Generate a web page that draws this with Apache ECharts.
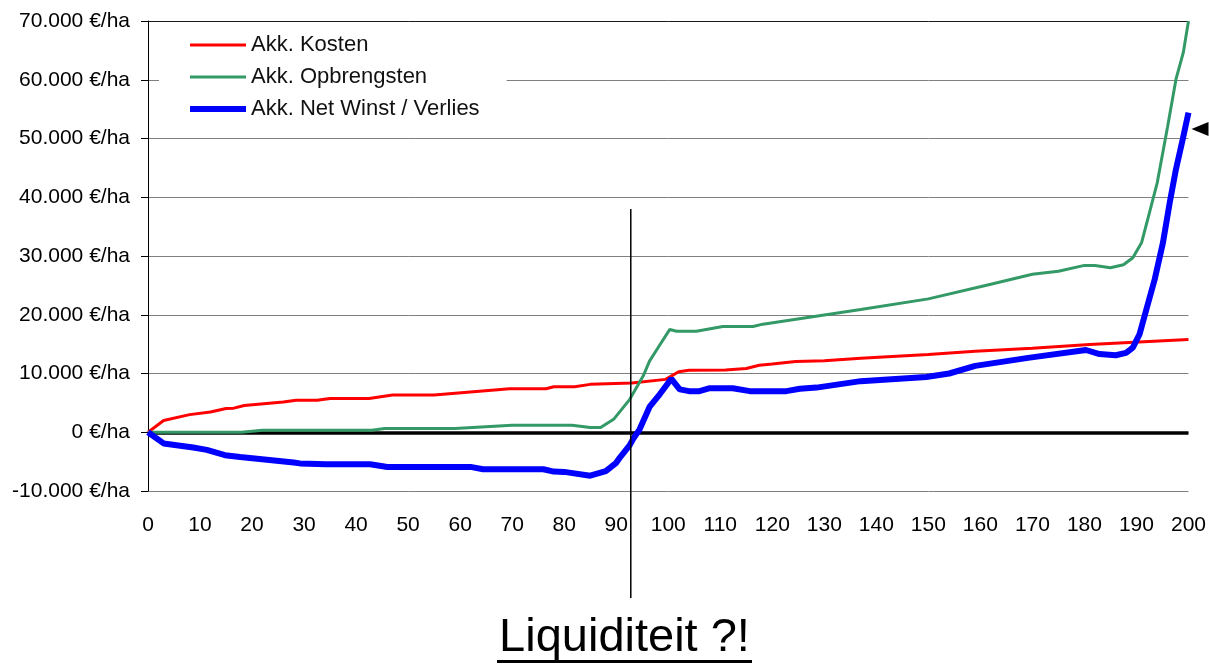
<!DOCTYPE html>
<html><head><meta charset="utf-8">
<script src="https://cdn.jsdelivr.net/npm/echarts@6/dist/echarts.min.js"></script>
<style>html,body{margin:0;padding:0;background:#fff}#c{width:1209px;height:664px}</style>
</head><body><div id="c"></div>
<script>
// ---- data ----
const seriesNames = ['Akk. Kosten', 'Akk. Opbrengsten', 'Akk. Net Winst / Verlies'];
const xTicks = [0,10,20,30,40,50,60,70,80,90,100,110,120,130,140,150,160,170,180,190,200];
const yTicks = [-10000,0,10000,20000,30000,40000,50000,60000,70000];

const kostenX = [0,3,8,12,15,16.5,18.5,26,28.5,32.5,35,42.5,47,55,69.5,76.5,78,82,85,93,99.5,102,104,111,115,117.5,120,124.5,130,137,150,159,170,181,200];
const kostenY = [0,2000,3000,3450,4050,4100,4550,5150,5450,5450,5750,5750,6350,6350,7400,7400,7750,7750,8150,8400,9000,10300,10550,10600,10850,11400,11600,12050,12150,12600,13250,13800,14300,14950,15800];

const opbrX = [0,18,22,43,45.5,59,70,81.5,85,87,89.5,92.6,95.2,96.4,98.4,100.3,101.6,105.4,110.5,116.3,118.2,137,150,162,170,175,180,182,185,187.5,189.3,191,192.5,194,196,197.6,199,200];
const opbrY = [0,0,350,350,650,650,1200,1200,800,800,2200,5600,9600,12100,14900,17500,17200,17200,18000,18000,18400,20900,22700,25200,26900,27400,28400,28400,28000,28500,29700,32300,37400,42500,52100,60100,64600,70000];

const netX = [0,3,8.7,11.3,14.8,17.7,28,29.2,34.3,42.7,46,62,64.4,76,78,80,85,88,90,90.7,92.6,93.2,94.5,96.4,98.4,100.6,102.2,104,106,108,112.4,115.7,122.7,125.3,128.5,137,149.6,154,159,169.5,180.3,182.9,186,188,189.3,190.6,191.9,193.5,195.1,196.4,197.6,198.9,200];
const netY = [0,-1900,-2600,-3000,-3900,-4200,-5150,-5300,-5450,-5450,-5900,-5900,-6300,-6300,-6700,-6750,-7400,-6600,-5200,-4300,-2200,-1200,500,4300,6500,9100,7300,7000,7000,7500,7500,7000,7000,7400,7600,8700,9400,10000,11300,12700,14000,13300,13100,13500,14400,16700,20900,26000,32300,39100,44800,49900,54400];

const markerX = 92.8;          // vertical annotation line
const markerTop = 38000;
const arrowValue = 51600;      // arrow at right edge
const titleText = 'Liquiditeit ?!';

// ---- chart ----
const FONT = 'Liberation Sans, Arial, sans-serif';
const pairs = (xs, ys) => xs.map((x, i) => [x, ys[i]]);
function fmtEuro(v) {
  const s = String(Math.abs(v)).replace(/\B(?=(\d{3})+(?!\d))/g, '.');
  return (v < 0 ? '-' : '') + s + ' €/ha';
}
const colors = ['#ff0000', '#339966', '#0000ff'];
const widths = [3, 3, 6];
// legend icon: a bar of the series' line width inside a 56x12 box
const lineIcon = w => 'path://M0,0 M56,12 M0,' + (6 - w / 2) + ' H56 V' + (6 + w / 2) + ' H0 Z';

const chart = echarts.init(document.getElementById('c'), null, {renderer: 'canvas'});
const gridColors = yTicks.map((t, i) => i === yTicks.length - 1 ? '#1a1a1a' : '#808080');

chart.setOption({
  animation: false,
  backgroundColor: '#fff',
  textStyle: {fontFamily: FONT},
  grid: {left: 148, right: 20, top: 21, bottom: 173, containLabel: false},
  legend: {
    data: seriesNames.map((n, i) => ({name: n, icon: lineIcon(widths[i]),
      itemStyle: {color: colors[i], borderWidth: 0}})),
    orient: 'vertical',
    left: 159, top: 25,
    padding: [9, 27, 10, 31],
    backgroundColor: '#fff',
    itemWidth: 56, itemHeight: 12, itemGap: 10,
    textStyle: {fontSize: 22, color: '#111', fontFamily: FONT, lineHeight: 22, padding: [0,0,0,0]},
    selectedMode: false
  },
  xAxis: {
    type: 'value', min: 0, max: 200, interval: 10,
    axisLine: {show: false}, axisTick: {show: false}, splitLine: {show: false},
    axisLabel: {fontSize: 21, color: '#000', margin: 24, fontFamily: FONT,
      formatter: v => xTicks.includes(v) ? String(v) : ''}
  },
  yAxis: {
    type: 'value', min: -10000, max: 70000, interval: 10000,
    axisLine: {show: true, lineStyle: {color: '#000', width: 1}},
    axisTick: {show: true, length: 7, lineStyle: {color: '#000'}},
    splitLine: {show: true, lineStyle: {color: gridColors, width: 1}},
    axisLabel: {fontSize: 21, color: '#000', margin: 18, fontFamily: FONT, formatter: fmtEuro}
  },
  series: [
    {name: seriesNames[0], type: 'line', data: pairs(kostenX, kostenY), symbol: 'none',
     lineStyle: {color: colors[0], width: widths[0]}, itemStyle: {color: colors[0]}, z: 3,
     markLine: {silent: true, symbol: 'none', label: {show: false},
       lineStyle: {color: '#000', width: 3.5, type: 'solid'}, data: [{yAxis: 0}], z: 1}},
    {name: seriesNames[1], type: 'line', data: pairs(opbrX, opbrY), symbol: 'none',
     lineStyle: {color: colors[1], width: widths[1]}, itemStyle: {color: colors[1]}, z: 4},
    {name: seriesNames[2], type: 'line', data: pairs(netX, netY), symbol: 'none',
     lineStyle: {color: colors[2], width: widths[2]}, itemStyle: {color: colors[2]}, z: 5}
  ]
});

const pTop = chart.convertToPixel({gridIndex: 0}, [markerX, markerTop]);
const pArrow = chart.convertToPixel({gridIndex: 0}, [200, arrowValue]);
const ax = pArrow[0] + 3, ay = pArrow[1];
chart.setOption({
  graphic: [
    {type: 'line', shape: {x1: pTop[0], y1: pTop[1], x2: pTop[0], y2: 598},
     style: {stroke: '#000', lineWidth: 1.5}, z: 10},
    {type: 'polygon', shape: {points: [[ax, ay], [ax + 17, ay - 7], [ax + 17, ay + 7]]},
     style: {fill: '#000'}, z: 10},
    {type: 'text', x: 624.5, y: 638, style: {text: titleText, fontSize: 47, fontFamily: FONT,
      fill: '#000', align: 'center', verticalAlign: 'middle'}, z: 10},
    {type: 'rect', shape: {x: 497, y: 660, width: 255, height: 3}, style: {fill: '#000'}, z: 10}
  ]
});
</script></body></html>
